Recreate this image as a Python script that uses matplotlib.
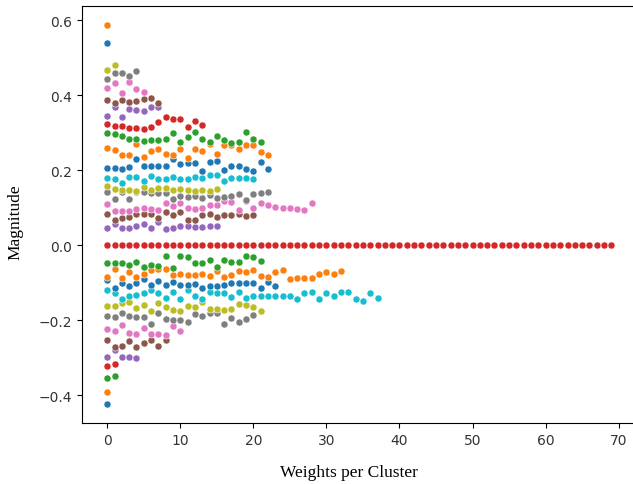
import matplotlib
matplotlib.use("Agg")
import matplotlib.pyplot as plt

plt.rcParams["savefig.bbox"] = "standard"

# magnitudes of the weights in each cluster, clusters sorted by centroid
clusters = [
    [-0.424],
    [-0.392],
    [-0.355, -0.348],
    [-0.323, -0.317],
    [-0.298, -0.28, -0.298, -0.298, -0.301],
    [-0.253, -0.271, -0.268, -0.255, -0.271, -0.262, -0.253, -0.268, -0.253],
    [-0.223, -0.23, -0.214, -0.234, -0.236, -0.22, -0.237, -0.237, -0.241,
     -0.216, -0.23],
    [-0.188, -0.193, -0.18, -0.189, -0.191, -0.193, -0.211, -0.18, -0.196,
     -0.199, -0.201, -0.205, -0.184, -0.189, -0.181, -0.181, -0.211, -0.195,
     -0.205, -0.196, -0.187],
    [-0.163, -0.163, -0.154, -0.152, -0.168, -0.159, -0.177, -0.154, -0.166,
     -0.172, -0.177, -0.163, -0.164, -0.152, -0.17, -0.17, -0.173, -0.17,
     -0.157, -0.161, -0.166, -0.175],
    [-0.12, -0.127, -0.143, -0.136, -0.132, -0.127, -0.12, -0.129, -0.141,
     -0.124, -0.145, -0.12, -0.136, -0.145, -0.125, -0.129, -0.129, -0.139,
     -0.125, -0.141, -0.136, -0.136, -0.136, -0.136, -0.136, -0.136, -0.145,
     -0.127, -0.124, -0.145, -0.127, -0.136, -0.124, -0.124, -0.145, -0.148,
     -0.129, -0.141],
    [-0.092, -0.115, -0.1, -0.108, -0.102, -0.09, -0.106, -0.095, -0.106,
     -0.099, -0.106, -0.106, -0.104, -0.115, -0.108, -0.109, -0.106, -0.102,
     -0.1, -0.1, -0.1, -0.115, -0.099, -0.108],
    [-0.084, -0.063, -0.088, -0.072, -0.084, -0.076, -0.067, -0.065, -0.064,
     -0.081, -0.076, -0.08, -0.08, -0.078, -0.083, -0.07, -0.086, -0.079,
     -0.07, -0.071, -0.067, -0.083, -0.084, -0.072, -0.067, -0.09, -0.088,
     -0.087, -0.087, -0.077, -0.072, -0.076, -0.068],
    [-0.049, -0.049, -0.049, -0.054, -0.045, -0.058, -0.054, -0.057, -0.028,
     -0.06, -0.03, -0.033, -0.049, -0.049, -0.039, -0.058, -0.04, -0.045,
     -0.045, -0.029, -0.033, -0.042],
    [0.0] * 70,
    [0.045, 0.057, 0.045, 0.045, 0.051, 0.057, 0.045, 0.061, 0.042, 0.045,
     0.051, 0.052, 0.049, 0.049, 0.051, 0.051],
    [0.084, 0.067, 0.072, 0.076, 0.084, 0.084, 0.084, 0.072, 0.088, 0.079,
     0.088, 0.067, 0.067, 0.081, 0.082, 0.076, 0.081, 0.081, 0.084, 0.077,
     0.081],
    [0.109, 0.092, 0.092, 0.092, 0.095, 0.099, 0.095, 0.093, 0.113, 0.104,
     0.113, 0.1, 0.097, 0.1, 0.106, 0.106, 0.118, 0.116, 0.093, 0.118, 0.1,
     0.113, 0.106, 0.102, 0.1, 0.1, 0.095, 0.093, 0.113],
    [0.141, 0.123, 0.141, 0.124, 0.141, 0.141, 0.138, 0.138, 0.14, 0.122,
     0.131, 0.127, 0.131, 0.125, 0.133, 0.126, 0.128, 0.13, 0.137, 0.12,
     0.137, 0.14, 0.142],
    [0.157, 0.15, 0.147, 0.146, 0.145, 0.155, 0.148, 0.151, 0.152, 0.148,
     0.15, 0.148, 0.145, 0.147, 0.145, 0.15],
    [0.179, 0.175, 0.166, 0.181, 0.181, 0.172, 0.184, 0.176, 0.177, 0.181,
     0.176, 0.176, 0.181, 0.179, 0.187, 0.188, 0.172, 0.179, 0.179, 0.179,
     0.177],
    [0.205, 0.205, 0.202, 0.208, 0.229, 0.212, 0.212, 0.212, 0.212, 0.229,
     0.215, 0.218, 0.218, 0.198, 0.221, 0.223, 0.201, 0.212, 0.212, 0.202,
     0.198, 0.221, 0.202],
    [0.26, 0.253, 0.241, 0.239, 0.269, 0.236, 0.25, 0.257, 0.244, 0.241,
     0.257, 0.232, 0.257, 0.252, 0.269, 0.244, 0.268, 0.268, 0.257, 0.266,
     0.268, 0.248, 0.241],
    [0.298, 0.296, 0.292, 0.282, 0.283, 0.278, 0.28, 0.28, 0.283, 0.3, 0.276,
     0.287, 0.301, 0.283, 0.275, 0.292, 0.281, 0.271, 0.276, 0.301, 0.283,
     0.276],
    [0.324, 0.317, 0.317, 0.312, 0.312, 0.31, 0.316, 0.328, 0.341, 0.335,
     0.335, 0.314, 0.33, 0.319],
    [0.343, 0.369, 0.342, 0.364, 0.36, 0.358, 0.367, 0.369],
    [0.386, 0.38, 0.386, 0.381, 0.384, 0.389, 0.393, 0.38],
    [0.418, 0.431, 0.406, 0.435, 0.415, 0.408],
    [0.442, 0.458, 0.458, 0.451, 0.463],
    [0.468, 0.479],
    [],
    [0.538],
    [0.587],
]

fig = plt.figure(figsize=(6.33, 4.85), dpi=100)
# the original screenshot cuts the plot just before its right spine
ax = fig.add_axes([82 / 633, 61 / 485, 563 / 633, 417 / 485])
ax.spines["right"].set_visible(False)

for weights in clusters:
    ax.scatter(range(len(weights)), weights, s=26,
               edgecolors="white", linewidths=0.4)

ax.set_xlim(-3.45, 73.6)
ax.tick_params(labelsize=10, labelcolor="#333333")
ax.set_xticks(range(0, 71, 10))
ax.set_yticks([-0.4, -0.2, 0.0, 0.2, 0.4, 0.6])

fig.text(349 / 633, 1 - 473 / 485, "Weights per Cluster", ha="center",
         va="center", family="Liberation Serif", fontsize=12.5)
fig.text(15 / 633, 1 - 222 / 485, "Magnitude", ha="center", va="center",
         rotation="vertical", family="Liberation Serif", fontsize=12.5)

fig.savefig("out.png", dpi=100, bbox_inches=None)
